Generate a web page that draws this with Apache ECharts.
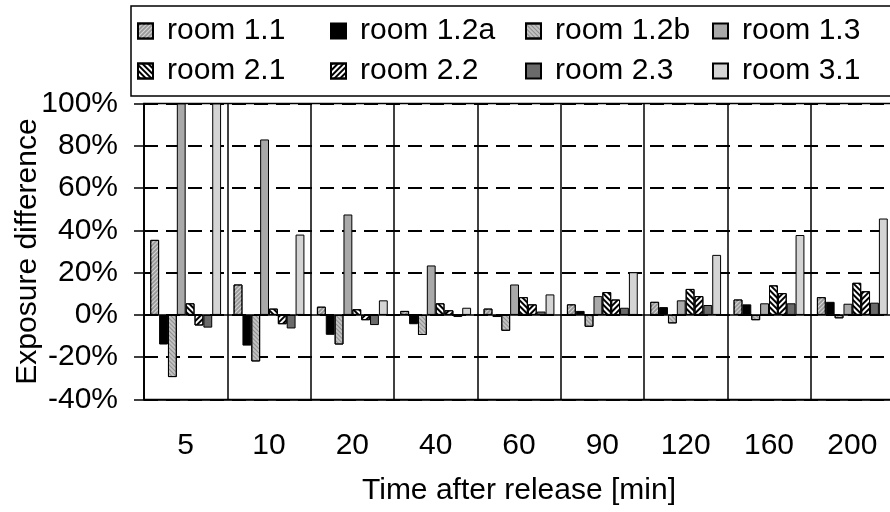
<!DOCTYPE html>
<html>
<head>
<meta charset="utf-8">
<script src="https://cdn.jsdelivr.net/npm/echarts@6/dist/echarts.min.js"></script>
<style>
  html, body { margin: 0; padding: 0; background: #fff; }
  #chart { width: 890px; height: 512px; }
</style>
</head>
<body>
<div id="chart"></div>
<script>
// time after release [min]
const categories = ["5", "10", "20", "40", "60", "90", "120", "160", "200"];

// exposure difference per room, in %
const room11 = [35.5, 14.4, 3.9, 1.9, 3.0, 5.0, 6.2, 7.3, 8.4];
const room12a = [-14.0, -14.5, -9.4, -4.4, -1.0, 1.9, 3.7, 5.0, 6.2];
const room12b = [-29.4, -22.0, -14.0, -9.5, -7.5, -5.6, -4.0, -2.5, -1.6];
const room13 = [100, 83.0, 47.5, 23.4, 14.4, 8.9, 6.9, 5.5, 5.3];
const room21 = [5.5, 3.0, 2.7, 5.5, 8.4, 10.8, 12.3, 14.0, 15.2];
const room22 = [-5.0, -4.4, -2.5, 2.2, 5.0, 7.3, 8.9, 10.3, 11.2];
const room23 = [-6.0, -6.4, -4.8, -1.0, 1.6, 3.4, 4.7, 5.5, 5.8];
const room31 = [100, 38.0, 6.9, 3.4, 9.7, 20.2, 28.4, 37.8, 45.6];

const yTicks = [-40, -20, 0, 20, 40, 60, 80, 100];

const FONT = "Liberation Sans";

const hatch = (rot) => ({
  symbol: "rect",
  symbolSize: 1,
  dashArrayX: [1, 0],
  dashArrayY: [2, 2],
  rotation: rot,
  color: "#000",
});

const rooms = [
  { name: "room 1.1", data: room11, color: "#9a9a9a", decal: { ...hatch(-Math.PI / 4), dashArrayY: [1, 2], color: "rgba(255,255,255,0.6)" } },
  { name: "room 1.2a", data: room12a, color: "#000000" },
  { name: "room 1.2b", data: room12b, color: "#c2c2c2", decal: { ...hatch(Math.PI / 4), dashArrayY: [1, 2], color: "rgba(90,90,90,0.5)" } },
  { name: "room 1.3", data: room13, color: "#a9a9a9" },
  { name: "room 2.1", data: room21, color: "#ffffff", decal: hatch(Math.PI / 4) },
  { name: "room 2.2", data: room22, color: "#ffffff", decal: hatch(-Math.PI / 4) },
  { name: "room 2.3", data: room23, color: "#6a6a6a" },
  { name: "room 3.1", data: room31, color: "#d4d4d4" },
];

// legend columns / rows as in the original box
const legendX = [137, 330, 525, 712];
const legendY = [16, 56];

const chart = echarts.init(document.getElementById("chart"));

const option = {
  animation: false,
  graphic: [
    {
      type: "rect",
      shape: { x: 131, y: 6, width: 762, height: 90 },
      style: { fill: "none", stroke: "#000", lineWidth: 1.5 },
      z: 10,
    },
  ],
  legend: rooms.map((r, i) => ({
    left: legendX[i % 4],
    top: legendY[Math.floor(i / 4)],
    padding: 0,
    icon: "rect",
    itemWidth: 15,
    itemHeight: 15,
    data: [r.name],
    selectedMode: false,
    textStyle: {
      fontFamily: FONT,
      fontSize: 30,
      color: "#000",
      padding: [0, 0, 0, 9],
    },
  })),
  grid: {
    left: 144,
    top: 103.5,
    width: 750,
    height: 296,
    outerBoundsMode: "none",
    show: true,
    borderColor: "#000",
    borderWidth: 1.5,
  },
  xAxis: {
    type: "category",
    data: categories,
    name: "Time after release [min]",
    nameLocation: "middle",
    nameGap: 76,
    nameMoveOverlap: false,
    nameTextStyle: { fontFamily: FONT, fontSize: 30, color: "#000" },
    axisLine: { onZero: false, lineStyle: { color: "#000", width: 1.5 } },
    axisTick: { show: false },
    axisLabel: { fontFamily: FONT, fontSize: 30, color: "#000", margin: 31 },
    splitLine: { show: true, interval: 0, lineStyle: { color: "#000", width: 1.5 } },
  },
  yAxis: {
    type: "value",
    min: yTicks[0],
    max: yTicks[yTicks.length - 1],
    interval: 20,
    name: "Exposure difference",
    nameLocation: "middle",
    nameGap: 101,
    nameMoveOverlap: false,
    nameTextStyle: { fontFamily: FONT, fontSize: 30, color: "#000" },
    axisLine: { show: true, lineStyle: { color: "#000", width: 1.5 } },
    axisTick: { show: true, length: 10, lineStyle: { color: "#000", width: 1.5 } },
    axisLabel: {
      fontFamily: FONT,
      fontSize: 30,
      color: "#000",
      margin: 26,
      formatter: "{value}%",
    },
    splitLine: { show: true, lineStyle: { color: "#000", width: 2, type: [14, 8] } },
  },
  series: rooms.map((r, i) => ({
    name: r.name,
    type: "bar",
    data: r.data,
    barGap: "0%",
    barCategoryGap: "15%",
    itemStyle: {
      color: r.color,
      borderColor: "#000",
      borderWidth: 1,
      decal: r.decal || null,
    },
    markLine: i === 0 ? {
      silent: true,
      symbol: "none",
      label: { show: false },
      lineStyle: { color: "#000", type: "solid", width: 1.5 },
      data: [{ yAxis: 0 }],
    } : undefined,
  })),
};

chart.setOption(option);
</script>
</body>
</html>
